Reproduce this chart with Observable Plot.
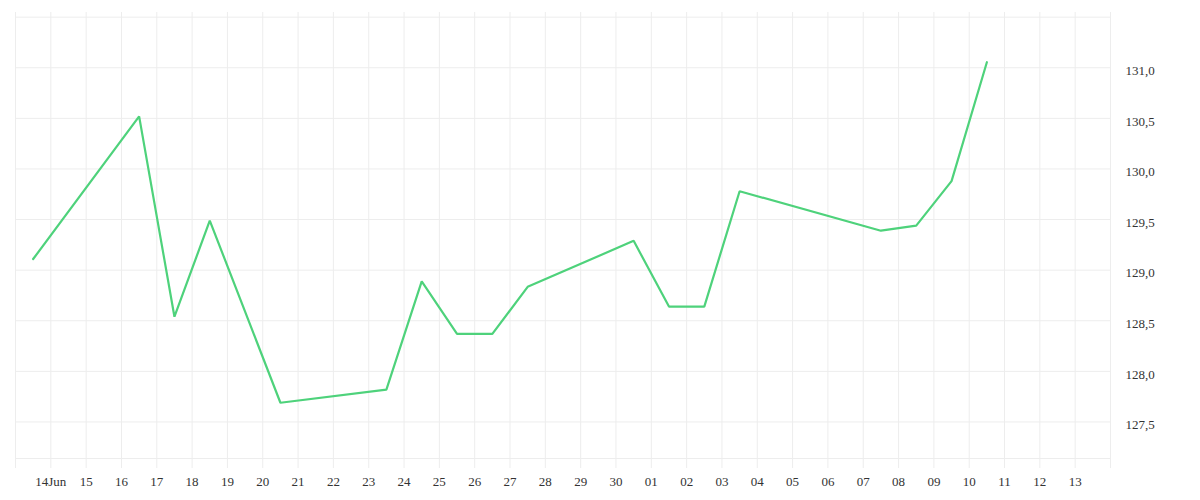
<!DOCTYPE html>
<html>
<head>
<meta charset="utf-8">
<script src="https://cdn.jsdelivr.net/npm/d3@7"></script>
<script src="https://cdn.jsdelivr.net/npm/@observablehq/plot@0.6"></script>
<style>
  html, body { margin: 0; padding: 0; background: #fff; }
  #chart svg text { font-family: "Liberation Serif", "DejaVu Serif", serif !important; font-size: 13px; }
</style>
</head>
<body>
<div id="chart"></div>
<script>
const dates = ["2021-06-13","2021-06-16","2021-06-17","2021-06-18","2021-06-20","2021-06-23","2021-06-24","2021-06-25","2021-06-26","2021-06-27","2021-06-30","2021-07-01","2021-07-02","2021-07-03","2021-07-07","2021-07-08","2021-07-09","2021-07-10"];
const values = [129.11, 130.52, 128.54, 129.49, 127.69, 127.82, 128.89, 128.37, 128.37, 128.835, 129.29, 128.64, 128.64, 129.78, 129.39, 129.44, 129.88, 131.055];
const yTicks = [127.5, 128.0, 128.5, 129.0, 129.5, 130.0, 130.5, 131.0];
const yGridLines = [127.5, 128.0, 128.5, 129.0, 129.5, 130.0, 130.5, 131.0, 131.5];
const xDomain = ["2021-06-13", "2021-07-14"];
const yDomain = [127.139, 131.546];

const data = dates.map((d, i) => ({date: new Date(d + "T12:00:00Z"), value: values[i]}));
const x0 = new Date(xDomain[0] + "T00:00:00Z");
const x1 = new Date(xDomain[1] + "T00:00:00Z");
const gridDays = d3.utcDay.range(x0, d3.utcDay.offset(x1, 1));
const labelDays = gridDays.slice(1, -1);

const grid = "#ededed";
const chart = Plot.plot({
  width: 1200,
  height: 500,
  marginLeft: 15,
  marginRight: 90,
  marginTop: 12,
  marginBottom: 42,
  style: {fontFamily: "Liberation Serif, serif", fontSize: "13px", color: "#333", background: "#fff", overflow: "visible"},
  x: {type: "utc", domain: [x0, x1]},
  y: {domain: yDomain},
  marks: [
    Plot.ruleX(gridDays, {stroke: grid, strokeWidth: 1, insetBottom: -10}),
    Plot.ruleY(yGridLines, {stroke: grid, strokeWidth: 1}),
    Plot.ruleY([yDomain[0]], {stroke: grid, strokeWidth: 1}),
    Plot.axisX(labelDays, {
      tickSize: 0,
      tickPadding: 18,
      label: null,
      fill: "#333",
      tickFormat: d => (d.getUTCMonth() === 5 && d.getUTCDate() === 14) ? "14Jun" : d3.utcFormat("%d")(d)
    }),
    Plot.axisY(yTicks, {
      anchor: "right",
      tickSize: 0,
      tickPadding: 15,
      label: null,
      fill: "#333",
      dy: 3,
      tickFormat: d => d.toFixed(1).replace(".", ",")
    }),
    Plot.line(data, {x: "date", y: "value", stroke: "#4ed27b", strokeWidth: 2.2, strokeLinejoin: "miter"})
  ]
});
document.getElementById("chart").append(chart);
</script>
</body>
</html>
